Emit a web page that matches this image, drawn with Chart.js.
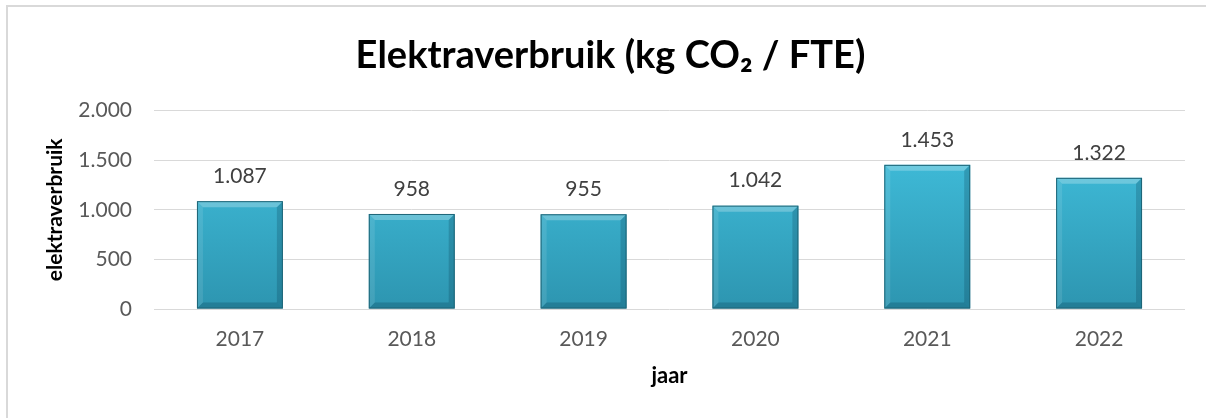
<!DOCTYPE html>
<html>
<head>
<meta charset="utf-8">
<script src="https://cdn.jsdelivr.net/npm/chart.js@4"></script>
<style>
  html, body { margin: 0; padding: 0; background: #ffffff; }
  #wrap { width: 1206px; height: 418px; position: relative; }
</style>
</head>
<body>
<div id="wrap"><canvas id="elektraChart"></canvas></div>
<script>
const years = ["2017", "2018", "2019", "2020", "2021", "2022"];
const kgPerFte = [1087, 958, 955, 1042, 1453, 1322];
const yTicks = [0, 500, 1000, 1500, 2000];

const FONT = "Lato, 'Open Sans', sans-serif";

// Dutch number format: 1.087
function nl(v) {
    return String(v).replace(/\B(?=(\d{3})+(?!\d))/g, ".");
}

// frame lines (left + top only, like the source)
const framePlugin = {
    id: "frame",
    beforeDraw(chart) {
        const c = chart.ctx;
        c.save();
        c.strokeStyle = "#d9d9d9";
        c.lineWidth = 2;
        c.beginPath();
        c.moveTo(7, chart.height);
        c.lineTo(7, 6);
        c.lineTo(chart.width, 6);
        c.stroke();
        c.restore();
    }
};

// bevel look + value labels above the bars
const barDecor = {
    id: "barDecor",
    afterDatasetsDraw(chart) {
        const c = chart.ctx;
        const meta = chart.getDatasetMeta(0);
        c.save();
        meta.data.forEach((bar, i) => {
            const left = bar.x - bar.width / 2;
            const right = bar.x + bar.width / 2;
            const top = bar.y;
            const bottom = bar.base;
            const b = 6;
            // top bevel
            c.fillStyle = "rgba(255,255,255,0.25)";
            c.beginPath();
            c.moveTo(left, top); c.lineTo(right, top);
            c.lineTo(right - b, top + b); c.lineTo(left + b, top + b);
            c.closePath(); c.fill();
            // left bevel
            c.fillStyle = "rgba(255,255,255,0.10)";
            c.beginPath();
            c.moveTo(left, top); c.lineTo(left + b, top + b);
            c.lineTo(left + b, bottom - b); c.lineTo(left, bottom);
            c.closePath(); c.fill();
            // right bevel
            c.fillStyle = "rgba(0,40,60,0.20)";
            c.beginPath();
            c.moveTo(right, top); c.lineTo(right - b, top + b);
            c.lineTo(right - b, bottom - b); c.lineTo(right, bottom);
            c.closePath(); c.fill();
            // bottom bevel
            c.fillStyle = "rgba(0,40,60,0.22)";
            c.beginPath();
            c.moveTo(left, bottom); c.lineTo(left + b, bottom - b);
            c.lineTo(right - b, bottom - b); c.lineTo(right, bottom);
            c.closePath(); c.fill();
            // outline
            c.strokeStyle = "#1e6577";
            c.lineWidth = 1;
            c.strokeRect(left + 0.5, top + 0.5, bar.width - 1, bottom - top - 1);

            c.fillStyle = "#404040";
            c.font = "21px " + FONT;
            c.textAlign = "center";
            c.textBaseline = "middle";
            c.fillText(nl(kgPerFte[i]), bar.x, top - 25);
        });
        c.restore();
    }
};

const ctx = document.getElementById("elektraChart");

new Chart(ctx, {
    type: "bar",
    data: {
        labels: years,
        datasets: [{
            label: "elektraverbruik",
            data: kgPerFte,
            backgroundColor: (context) => {
                const area = context.chart.chartArea;
                if (!area) return "#37b3d4";
                const g = context.chart.ctx.createLinearGradient(0, area.top, 0, area.bottom);
                g.addColorStop(0, "#44c6e4");
                g.addColorStop(1, "#2d95b0");
                return g;
            },
            borderWidth: 0,
            categoryPercentage: 1.0,
            barPercentage: 0.5
        }]
    },
    options: {
        responsive: true,
        maintainAspectRatio: false,
        animation: false,
        layout: {
            padding: { left: 36, right: 21, top: 0, bottom: 20 }
        },
        plugins: {
            legend: { display: false },
            tooltip: { enabled: false },
            title: {
                display: true,
                text: "Elektraverbruik (kg CO₂ / FTE)",
                color: "#000000",
                font: { family: FONT, size: 38, weight: "bold" },
                padding: { top: 33, bottom: 32 }
            }
        },
        scales: {
            x: {
                grid: { display: false },
                border: { display: false },
                ticks: {
                    color: "#595959",
                    font: { family: FONT, size: 21 },
                    padding: 10
                },
                title: {
                    display: true,
                    text: "jaar",
                    color: "#000000",
                    font: { family: FONT, size: 22, weight: "bold" },
                    padding: { top: 0, bottom: 9 }
                },
                afterFit(scale) { scale.height = 89; }
            },
            y: {
                min: 0,
                max: 2000,
                afterBuildTicks(scale) {
                    scale.ticks = yTicks.map(v => ({ value: v }));
                },
                grid: {
                    color: "#d9d9d9",
                    lineWidth: 1,
                    drawTicks: false
                },
                border: { display: false },
                ticks: {
                    color: "#595959",
                    font: { family: FONT, size: 21 },
                    padding: 22,
                    callback: (v) => nl(v)
                },
                title: {
                    display: true,
                    text: "elektraverbruik",
                    color: "#000000",
                    font: { family: FONT, size: 21, weight: "bold" },
                    padding: { top: 7, bottom: 7 }
                },
                afterFit(scale) { scale.width = 118; }
            }
        }
    },
    plugins: [framePlugin, barDecor]
});
</script>
</body>
</html>
